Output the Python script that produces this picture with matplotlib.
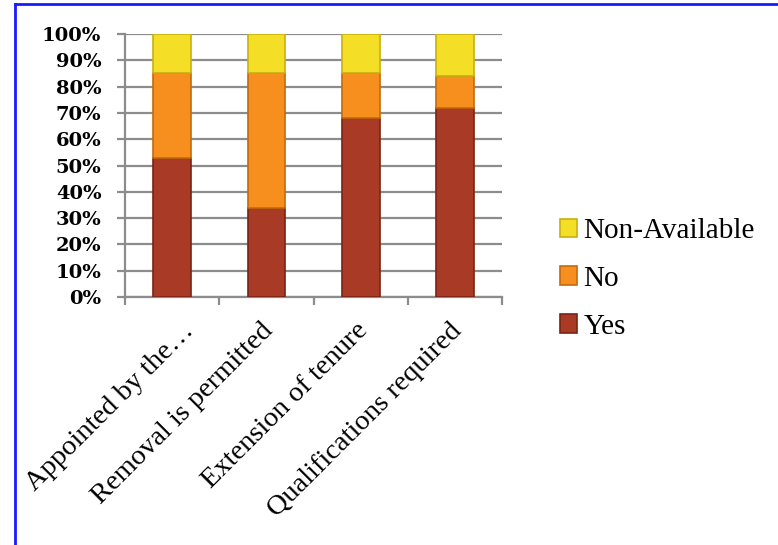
import matplotlib
matplotlib.use("Agg")
import matplotlib.pyplot as plt
from matplotlib.lines import Line2D
from matplotlib.ticker import PercentFormatter
import numpy as np

categories = ["Appointed by the…", "Removal is permitted", "Extension of tenure", "Qualifications required"]
yes = [53, 34, 68, 72]
no = [32, 51, 17, 12]
non_available = [15, 15, 15, 16]
series_labels = ["Yes", "No", "Non-Available"]
y_ticks = list(range(0, 101, 10))

colors = {"Yes": "#A83A26", "No": "#F78F1E", "Non-Available": "#F4DE26"}
edges = {"Yes": "#7A2414", "No": "#C56A0E", "Non-Available": "#C9B010"}

fig = plt.figure(figsize=(7.78, 5.45), dpi=100)
ax = fig.add_axes([0.1607, 0.455, 0.4846, 0.4826])

x = np.arange(len(categories))
bottom = np.zeros(len(categories))
handles = []
for name, vals in zip(series_labels, [yes, no, non_available]):
    b = ax.bar(x, vals, width=0.4, bottom=bottom, color=colors[name],
               edgecolor=edges[name], linewidth=1.2, zorder=3, label=name)
    handles.append(b)
    bottom += np.array(vals)

ax.set_xlim(-0.5, len(categories) - 0.5)
ax.set_ylim(0, 100)
ax.set_yticks(y_ticks)
ax.yaxis.set_major_formatter(PercentFormatter(decimals=0))
ax.yaxis.grid(True, color="#8C8C8C", linewidth=1.6, zorder=0)
ax.set_axisbelow(True)

for s in ["top", "right"]:
    ax.spines[s].set_visible(False)
for s in ["left", "bottom"]:
    ax.spines[s].set_color("#8C8C8C")
    ax.spines[s].set_linewidth(1.6)

ax.set_xticks(np.arange(-0.5, len(categories), 1.0))
ax.set_xticklabels([])
ax.tick_params(axis="x", length=6, width=1.6, color="#8C8C8C", direction="out")
ax.tick_params(axis="y", length=6, width=1.6, color="#8C8C8C", direction="out", pad=11)
for lab in ax.get_yticklabels():
    lab.set_fontfamily("DejaVu Serif")
    lab.set_fontweight("bold")
    lab.set_fontsize(14)

# first label is a truncated one, its box sits further right in the original
label_shift = [0.16, 0.0, 0.0, 0.0]
for xi, cat, dx in zip(x, categories, label_shift):
    ax.text(xi - 0.06 + dx, -8, cat, rotation=45, ha="right", va="top",
            rotation_mode="anchor", fontsize=20.5, family="Liberation Serif",
            transform=ax.transData, clip_on=False)

leg = fig.legend(handles=handles[::-1], labels=series_labels[::-1],
                 loc="center left", bbox_to_anchor=(0.686, 0.488),
                 frameon=False, prop={"family": "Liberation Serif", "size": 21},
                 handlelength=0.6, handleheight=0.6, handletextpad=0.2,
                 labelspacing=0.75)

# blue frame
fig.add_artist(Line2D([15 / 778, 1.0], [1 - 4 / 545, 1 - 4 / 545],
                      transform=fig.transFigure, color="#1A1AFF", linewidth=2))
fig.add_artist(Line2D([15 / 778, 15 / 778], [0, 1 - 4 / 545],
                      transform=fig.transFigure, color="#1A1AFF", linewidth=2))

fig.savefig("out.png", dpi=100)
